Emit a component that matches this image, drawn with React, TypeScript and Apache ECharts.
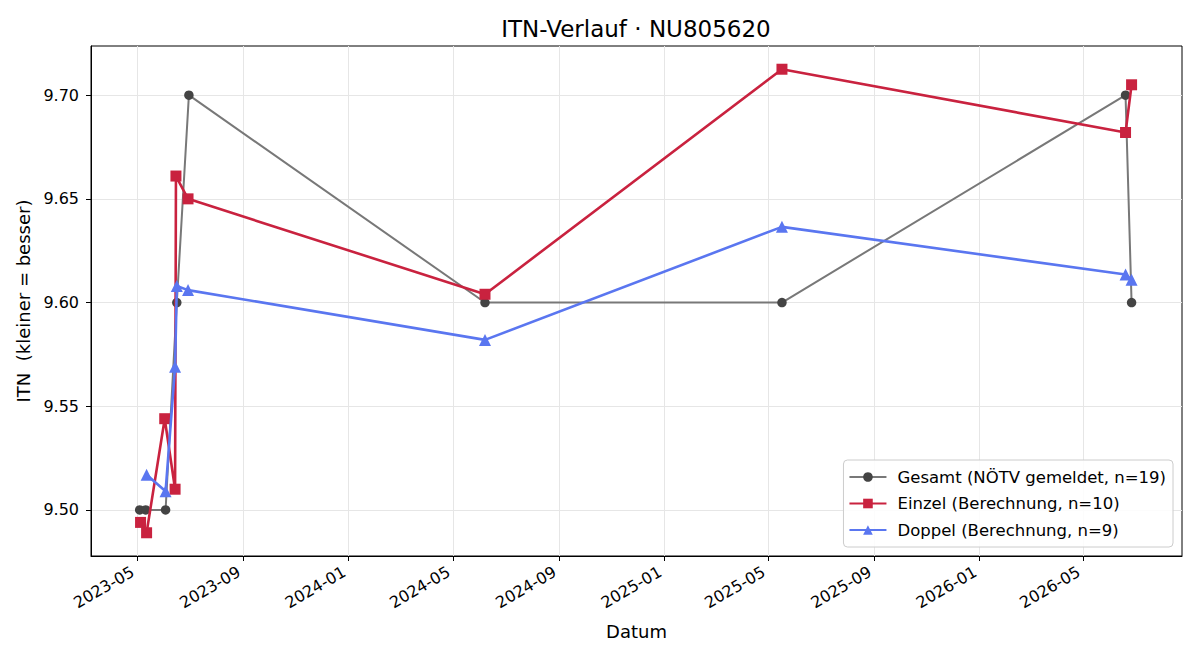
import React, { useEffect, useRef } from "react";
import * as echarts from "echarts";

const DAY = 86400000;
const d = (s: string) => {
  const [y, m, dd] = s.split("-").map(Number);
  return Date.UTC(y, m - 1, dd);
};

// Gesamt (NÖTV gemeldet)
const gesamtDates = ["2023-05-04", "2023-05-11", "2023-06-03", "2023-06-16", "2023-06-30", "2024-06-07", "2025-05-17", "2026-06-19", "2026-06-26"];
const gesamtValues = [9.5, 9.5, 9.5, 9.6, 9.7, 9.6, 9.6, 9.7, 9.6];

// Einzel (Berechnung)
const einzelDates = ["2023-05-05", "2023-05-12", "2023-06-02", "2023-06-14", "2023-06-15", "2023-06-29", "2024-06-07", "2025-05-17", "2026-06-19", "2026-06-26"];
const einzelValues = [9.494, 9.489, 9.544, 9.510, 9.661, 9.650, 9.604, 9.7125, 9.682, 9.705];

// Doppel (Berechnung)
const doppelDates = ["2023-05-12", "2023-06-03", "2023-06-14", "2023-06-16", "2023-06-29", "2024-06-07", "2025-05-17", "2026-06-19", "2026-06-26"];
const doppelValues = [9.517, 9.509, 9.569, 9.608, 9.606, 9.582, 9.6365, 9.6135, 9.611];

const xTickDates = ["2023-05-01", "2023-09-01", "2024-01-01", "2024-05-01", "2024-09-01", "2025-01-01", "2025-05-01", "2025-09-01", "2026-01-01", "2026-05-01"];
const yTicks = [9.5, 9.55, 9.6, 9.65, 9.7];

const seriesNames = ["Gesamt (NÖTV gemeldet, n=19)", "Einzel (Berechnung, n=10)", "Doppel (Berechnung, n=9)"];

const FONT = "DejaVu Sans";

export default function App() {
  const ref = useRef<HTMLDivElement>(null);
  useEffect(() => {
    if (!ref.current) return;
    const chart = echarts.init(ref.current, null, { renderer: "svg" });
    const zip = (ds: string[], vs: number[]) => ds.map((s, i) => [d(s), vs[i]]);
    const xMin = d("2023-05-01") - 53.4 * DAY;
    const xMax = d("2023-05-01") + 1210.4 * DAY;
    const xTicks = xTickDates.map(d);
    const fmt = (v: number) => {
      const dt = new Date(v);
      const m = dt.getUTCMonth() + 1;
      return dt.getUTCFullYear() + "-" + (m < 10 ? "0" + m : "" + m);
    };
    chart.setOption({
      animation: false,
      backgroundColor: "#fff",
      title: {
        text: "ITN-Verlauf · NU805620",
        left: 631,
        textAlign: "center",
        top: 12,
        textStyle: { fontFamily: FONT, fontSize: 23, fontWeight: "normal", color: "#000" },
      },
      grid: { left: 91, right: 18, top: 46, bottom: 104, show: true, borderColor: "#000", borderWidth: 1, backgroundColor: "transparent" },
      legend: {
        orient: "vertical",
        right: 27,
        bottom: 113,
        data: seriesNames,
        itemWidth: 37,
        itemHeight: 12,
        itemGap: 6.5,
        padding: [7, 7, 7, 5],
        borderColor: "#cccccc",
        borderWidth: 1,
        borderRadius: 4,
        backgroundColor: "rgba(255,255,255,0.85)",
        textStyle: { fontFamily: FONT, fontSize: 16.5, color: "#000", lineHeight: 20, padding: [0, 0, 0, 6] },
      },
      xAxis: {
        type: "value",
        min: xMin,
        max: xMax,
        scale: true,
        name: "Datum",
        nameLocation: "middle",
        nameGap: 66,
        nameTextStyle: { fontFamily: FONT, fontSize: 18, color: "#000" },
        axisLine: { onZero: false, lineStyle: { color: "#000", width: 1 } },
        axisTick: { show: true, length: 5, lineStyle: { color: "#000" }, customValues: xTicks },
        axisLabel: {
          customValues: xTicks,
          rotate: 30,
          margin: 12,
          padding: [0, 5, 0, 0],
          formatter: (v: number) => fmt(v),
          fontFamily: FONT,
          fontSize: 16,
          color: "#000",
          hideOverlap: false,
        },
        splitLine: { show: true, lineStyle: { color: "#e6e6e6", width: 1 } },
      },
      yAxis: {
        type: "value",
        min: 9.4778,
        max: 9.7237,
        scale: true,
        name: "ITN  (kleiner = besser)",
        nameLocation: "middle",
        nameGap: 56,
        nameTextStyle: { fontFamily: FONT, fontSize: 18, color: "#000" },
        axisLine: { show: true, onZero: false, lineStyle: { color: "#000", width: 1 } },
        axisTick: { show: true, length: 5, lineStyle: { color: "#000" }, customValues: yTicks },
        axisLabel: {
          customValues: yTicks,
          formatter: (v: number) => v.toFixed(2),
          fontFamily: FONT,
          fontSize: 16,
          color: "#000",
          margin: 12,
        },
        splitLine: { show: true, lineStyle: { color: "#e6e6e6", width: 1 } },
      },
      series: [
        {
          name: seriesNames[0],
          type: "line",
          data: zip(gesamtDates, gesamtValues),
          symbol: "circle",
          symbolSize: 9.5,
          lineStyle: { color: "#787878", width: 2 },
          itemStyle: { color: "#444444" },
          z: 2,
        },
        {
          name: seriesNames[1],
          type: "line",
          data: zip(einzelDates, einzelValues),
          symbol: "rect",
          symbolSize: 11,
          lineStyle: { color: "#c9223f", width: 2.6 },
          itemStyle: { color: "#c9223f" },
          z: 3,
        },
        {
          name: seriesNames[2],
          type: "line",
          data: zip(doppelDates, doppelValues),
          symbol: "triangle",
          symbolSize: 12,
          lineStyle: { color: "#5a76f0", width: 2.6 },
          itemStyle: { color: "#5a76f0" },
          z: 4,
        },
      ],
    });
    return () => chart.dispose();
  }, []);
  return <div ref={ref} style={{ position: "fixed", left: 0, top: 0, width: 1200, height: 660 }} />;
}
